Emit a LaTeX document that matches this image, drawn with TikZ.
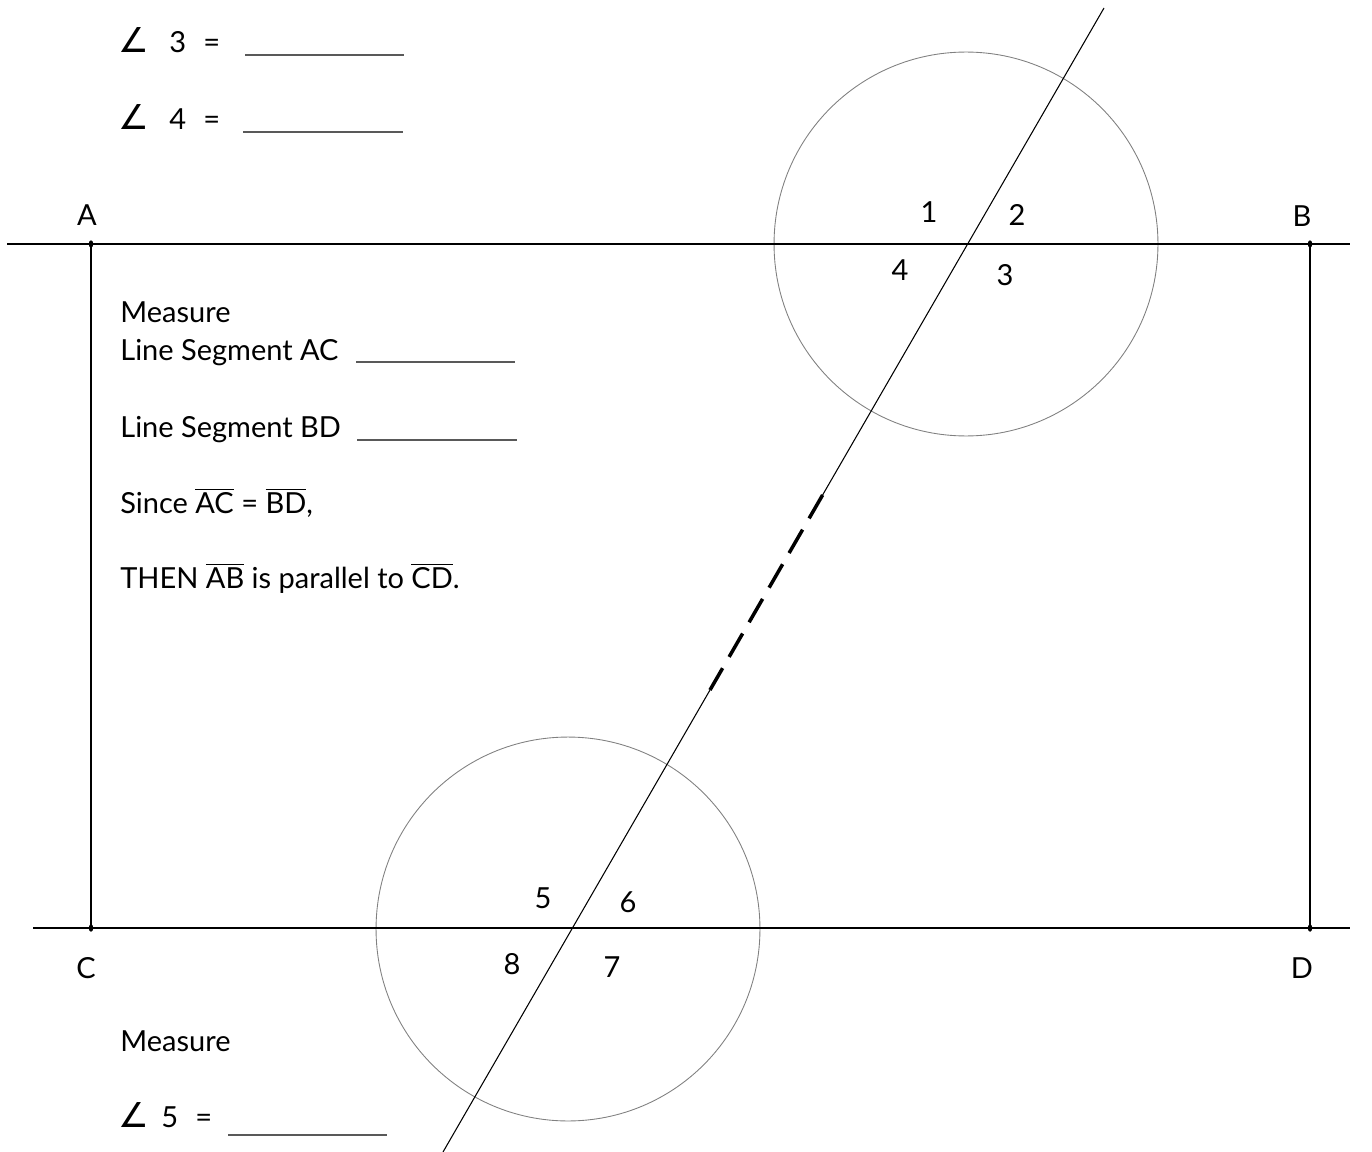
\documentclass[tikz,border=0pt]{standalone}
\usepackage{fontspec}
\setmainfont{Lato}
\newfontfamily\symfont{DejaVu Sans}
\newcommand{\ovl}[1]{$\overline{\hbox{#1}}$}
\begin{document}
\begin{tikzpicture}[x=0.02cm,y=-0.02cm,
  lbl/.style={font=\fontsize{16.5}{20}\selectfont, inner sep=0pt},
  txt/.style={lbl, anchor=base west},
  ang/.style={font=\symfont\fontsize{19.5}{23}\selectfont, inner sep=0pt, anchor=base west},
  blank/.style={draw=black!65, line width=1pt},
  thinline/.style={draw=black, line width=0.6pt},
  circ/.style={draw=black!50, line width=0.5pt},
  dashpart/.style={draw=black, line width=2pt, dash pattern=on 0.54cm off 0.26cm},
  pt/.style={fill=black}]
\useasboundingbox (0,0) rectangle (1372,1152);
% points
\coordinate (A) at (91,244);
\coordinate (B) at (1310,244);
\coordinate (C) at (91,928);
\coordinate (D) at (1310,928);
\coordinate (ABl) at (7,244);
\coordinate (ABr) at (1350,244);
\coordinate (CDl) at (33,928);
\coordinate (CDr) at (1350,928);
\coordinate (T1) at (1104,8);
\coordinate (T2) at (443,1152);
\coordinate (Ds) at (822.6,495);
\coordinate (De) at (710,690);
\coordinate (O1) at (966,244);
\coordinate (O2) at (568,929);
% circles
\draw[circ] (O1) circle[radius=3.84cm];
\draw[circ] (O2) circle[radius=3.84cm];
% lines
\draw[thinline] (ABl) -- (ABr);
\draw[thinline] (CDl) -- (CDr);
\draw[thinline] (A) -- (C);
\draw[thinline] (B) -- (D);
\draw[thinline] (T1) -- (Ds);
\draw[thinline] (De) -- (T2);
\draw[dashpart] (Ds) -- (De);
% dots
\foreach \p in {A,B,C,D} \fill[pt] (\p) ellipse[x radius=0.045cm, y radius=0.075cm];
% point labels
\node[lbl] (lA) at (87,215) {A};
\node[lbl] (lB) at (1302,216) {B};
\node[lbl] (lC) at (86,968) {C};
\node[lbl] (lD) at (1302,968) {D};
% angle numbers
\node[lbl] (n1) at (929,212) {1};
\node[lbl] (n2) at (1017,215) {2};
\node[lbl] (n4) at (900,270) {4};
\node[lbl] (n3) at (1005,275) {3};
\node[lbl] (n5) at (543,898) {5};
\node[lbl] (n6) at (628,902) {6};
\node[lbl] (n8) at (512,964) {8};
\node[lbl] (n7) at (612,967) {7};
% top-left angle rows
\node[ang] (a3s) at (118,53) {∠};
\node[txt] (a3n) at (169,53) {3};
\node[txt] (a3e) at (203,53) {=};
\draw[blank] (245,55) -- (404,55);
\node[ang] (a4s) at (118,130) {∠};
\node[txt] (a4n) at (169,130) {4};
\node[txt] (a4e) at (203,130) {=};
\draw[blank] (243,132) -- (403,132);
% text block
\node[txt] (m1) at (120,322) {Measure};
\node[txt] (ac) at (120,360) {Line Segment AC};
\draw[blank] (356,362) -- (515,362);
\node[txt] (bd) at (120,437) {Line Segment BD};
\draw[blank] (357,440) -- (517,440);
\node[txt] (since) at (120,513) {Since \ovl{AC} = \ovl{BD},};
\node[txt] (then) at (120,588) {THEN \ovl{AB} is parallel to \ovl{CD}.};
% bottom text
\node[txt] (m2) at (120,1051) {Measure};
\node[ang] (a5s) at (118,1127) {∠};
\node[txt] (a5n) at (161,1127) {5};
\node[txt] (a5e) at (195,1127) {=};
\draw[blank] (228,1135) -- (387,1135);
\end{tikzpicture}
\end{document}
